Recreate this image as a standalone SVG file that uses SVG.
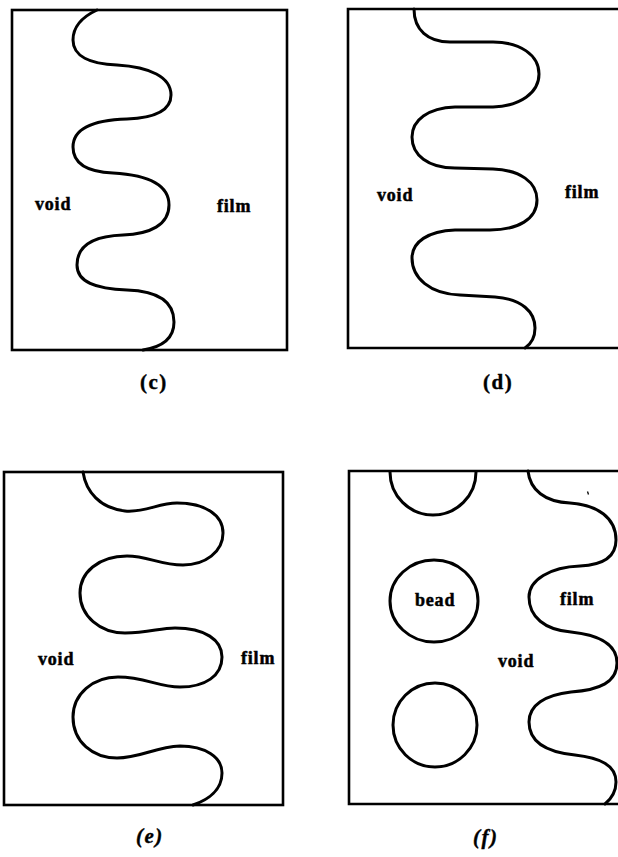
<svg xmlns="http://www.w3.org/2000/svg" width="618" height="857" viewBox="0 0 618 857">
<style>
.box{fill:none;stroke:#000;stroke-width:2.6}
.wave{fill:none;stroke:#000;stroke-width:3;stroke-linecap:round;stroke-linejoin:round}
.lbl{font-family:"Liberation Serif","Times New Roman",serif;font-weight:bold;font-size:18px;letter-spacing:0.8px;fill:#000;stroke:#000;stroke-width:0.5}
.cap{font-family:"Liberation Serif","Times New Roman",serif;font-weight:bold;font-size:21px;letter-spacing:1.5px;fill:#000;stroke:#000;stroke-width:0.4}
.it{font-style:italic}
</style>
<rect width="618" height="857" fill="#fff"/>
<defs>
<clipPath id="clipF"><rect x="349" y="471" width="280" height="333"/></clipPath>
</defs>

<g id="panel-c">
<rect class="box" x="12" y="10" width="275" height="340"/>
<path class="wave" d="M 97,10 C 82,17 73,27 73,40 C 73,56 90,64 117,65 C 150,67 171,77 171,95 C 171,112 152,118 127,119 C 95,120 73,128 73,147 C 73,165 90,172 113,173 C 148,175 169,185 169,205 C 169,225 150,234 123,235 C 95,236 77,245 77,265 C 77,282 95,289 127,290 C 158,291 174,302 174,322 C 174,338 162,347 143,350"/>
<text class="lbl" x="35" y="210">void</text>
<text class="lbl" x="217" y="212">film</text>
<text class="cap" x="140" y="389">(c)</text>
</g>

<g id="panel-d">
<path class="box" d="M 625,9 L 348,9 L 348,348 L 625,348"/>
<path class="wave" d="M 414,9 C 414,30 428,42 450,42 L 493,42 C 520,42 539,55 539,74 C 539,93 520,106 493,107 L 455,107 C 428,108 412,120 412,137 C 412,155 428,168 455,168 L 493,169 C 520,170 537,182 537,200 C 537,219 518,230 490,230 L 455,230 C 428,231 412,242 412,258 C 412,278 430,294 460,295 L 495,297 C 522,299 535,312 535,328 C 535,337 531,344 525,348"/>
<text class="lbl" x="377" y="201">void</text>
<text class="lbl" x="565" y="198">film</text>
<text class="cap" x="483" y="389">(d)</text>
</g>

<g id="panel-e">
<rect class="box" x="4" y="472" width="279" height="333"/>
<path class="wave" d="M 83,472 C 86,492 100,508 125,511 C 145,513 158,503 177,503 C 205,503 223,515 223,533 C 223,552 205,565 183,565 C 160,565 148,556 127,556 C 98,556 80,573 80,593 C 80,616 100,633 125,633 C 148,633 160,628 175,628 C 205,628 222,640 222,657 C 222,676 205,687 180,687 C 158,687 145,677 118,677 C 93,677 73,694 73,717 C 73,742 93,758 117,758 C 140,758 155,747 180,746 C 205,746 222,757 222,773 C 222,790 208,800 193,805"/>
<text class="lbl" x="38" y="665">void</text>
<text class="lbl" x="241" y="664">film</text>
<text class="cap it" x="136" y="843">(e)</text>
</g>

<g id="panel-f">
<path class="box" d="M 625,471 L 349,471 L 349,804 L 625,804"/>
<g clip-path="url(#clipF)">
<circle class="wave" cx="433" cy="472" r="43"/>
</g>
<ellipse id="bead" class="wave" cx="434" cy="601" rx="44" ry="41"/>
<circle id="bead2" class="wave" cx="435" cy="725" r="42"/>
<path class="wave" d="M 528,471 C 530,490 545,502 570,503 C 598,505 616,518 616,540 C 616,557 602,565 580,566 C 550,567 529,580 529,597 C 529,617 545,630 571,632 C 600,635 617,645 617,663 C 617,682 600,690 571,692 C 545,695 529,705 529,722 C 529,742 545,752 575,755 C 600,758 616,765 616,782 C 616,792 611,799 605,804"/>
<path d="M 587.5,491.5 L 588.5,494.5" stroke="#000" stroke-width="1.3" fill="none"/>
<text class="lbl" x="415" y="606">bead</text>
<text class="lbl" x="560" y="605">film</text>
<text class="lbl" x="498" y="667">void</text>
<text class="cap it" x="473" y="844">(f)</text>
</g>
</svg>
